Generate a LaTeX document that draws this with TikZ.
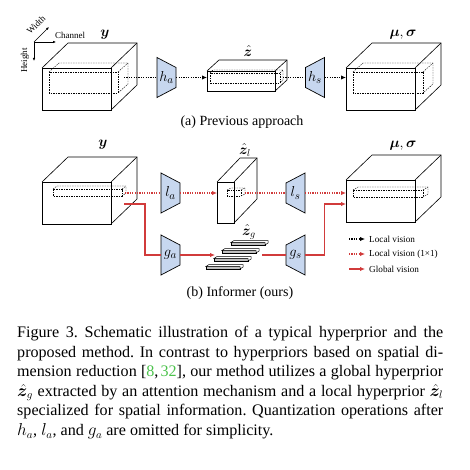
\documentclass[tikz,border=0pt]{standalone}
\usepackage{fontspec}
\setmainfont{Liberation Serif}
\usepackage{bm}
\usetikzlibrary{arrows.meta, calc}
\definecolor{encblue}{HTML}{C7D7EF}
\definecolor{visred}{HTML}{D13B3B}
\definecolor{citegreen}{HTML}{4CC24C}

\tikzset{
  cubeline/.style={line width=0.6pt},
  innerdash/.style={line width=0.4pt, dash pattern=on 1.5pt off 1pt},
  codec/.style={fill=encblue, draw=black, line width=0.7pt},
  codelabel/.style={minimum width=19pt, minimum height=40pt, inner sep=0pt,
    font=\fontsize{15}{17}\selectfont},
  mathlabel/.style={inner sep=0pt, font=\fontsize{14}{16}\selectfont},
  smalltext/.style={inner sep=0pt, font=\fontsize{9}{10}\selectfont},
  legendtext/.style={inner sep=0pt, anchor=west, font=\fontsize{9.2}{11}\selectfont},
  subcap/.style={inner sep=0pt, font=\fontsize{14}{16}\selectfont},
  blackdot/.style={black, line width=1.2pt, dash pattern=on 1.2pt off 1.2pt},
  reddot/.style={visred, line width=1.2pt, dash pattern=on 1.2pt off 1.2pt},
  redline/.style={visred, line width=1.2pt},
  tip/.style={-{Latex[length=5pt,width=4.5pt]}},
  axisarrow/.style={line width=0.6pt, -{Latex[length=3pt,width=2.6pt]}}
}

% front top-left x, y, width, height, depth dx, dy
\newcommand{\cuboid}[7][cubeline]{%
  \draw[#1] (#2,#3) rectangle ({#2+#4},{#3+#5});
  \draw[#1] (#2,#3) -- ++(#6,#7) -- ++(#4,0) -- ++(0,#5) -- ({#2+#4},{#3+#5});
  \draw[#1] ({#2+#4},#3) -- ++(#6,#7);
}
% name, x, y, label (wide side left)
\newcommand{\encoder}[4]{%
  \filldraw[codec] ({#2-9.5},{#3-20}) -- ({#2+9.5},{#3-10}) -- ({#2+9.5},{#3+10})
    -- ({#2-9.5},{#3+20}) -- cycle;
  \node[codelabel] (#1) at (#2,#3) {#4};
}
% name, x, y, label (wide side right)
\newcommand{\decoder}[4]{%
  \filldraw[codec] ({#2-9.5},{#3-10}) -- ({#2+9.5},{#3-20}) -- ({#2+9.5},{#3+20})
    -- ({#2-9.5},{#3+10}) -- cycle;
  \node[codelabel] (#1) at (#2,#3) {#4};
}
% left bottom corner of one bar of z_g
\newcommand{\zgbar}[2]{%
  \filldraw[fill=black!25, line width=0.5pt] (#1,#2) rectangle ({#1+34},{#2-2.5});
  \filldraw[fill=white, line width=0.5pt] (#1,{#2-2.5}) -- ++(3,-2) -- ++(34,0)
    -- ++(0,2.5) -- ({#1+34},#2) -- ({#1+34},{#2-2.5}) -- cycle;
}

\begin{document}
\begin{tikzpicture}[x=1pt, y=-1pt]
  \useasboundingbox (0,0) rectangle (469,470);

  % axes
  \coordinate (axo) at (34,42);
  \coordinate (axw) at (49,27);
  \coordinate (axc) at (56,42);
  \coordinate (axh) at (34,61);
  \draw[axisarrow] (axo) -- (axw);
  \draw[axisarrow] (axo) -- (axc);
  \draw[axisarrow] (axo) -- (axh);
  \node[smalltext, rotate=45] (lblw) at (36,25) {Width};
  \node[smalltext] (lblc) at (70,35) {Channel};
  \node[smalltext, rotate=90] (lblh) at (25,60.5) {Height};

  % (a) previous approach
  \cuboid{42}{68}{69}{42}{26}{-25}
  \cuboid[innerdash]{49}{72}{69}{21}{10}{-9}
  \node[mathlabel] (ya) at (105,35) {$\bm{y}$};
  \coordinate (ya-out) at (124,77.5);

  \encoder{ha}{166.5}{77.5}{$h_a$}

  \cuboid{207}{71}{68}{20}{12}{-11}
  \cuboid[innerdash]{210}{73}{70}{10}{3}{-3}
  \node[mathlabel] (za) at (248,51) {$\hat{\bm{z}}$};
  \coordinate (za-in) at (207,77.5);
  \coordinate (za-out) at (283,77.5);

  \decoder{hs}{315}{77.5}{$h_s$}

  \cuboid{346}{68}{69}{42}{26}{-25}
  \cuboid[innerdash]{353}{72}{70}{21}{10}{-9}
  \node[mathlabel] (ma) at (403,35) {$\bm{\mu},\bm{\sigma}$};
  \coordinate (ma-in) at (346,77.5);

  \draw[blackdot] (ya-out) -- (ha.west);
  \draw[blackdot, tip] (ha.east) -- (za-in);
  \draw[blackdot] (za-out) -- (hs.west);
  \draw[blackdot, tip] (hs.east) -- (ma-in);

  \node[subcap] (capa) at (242,122) {(a) Previous approach};

  % (b) informer
  \cuboid{42}{182}{69}{42}{26}{-25}
  \cuboid[innerdash]{53}{189}{69}{7}{4}{-3}
  \node[mathlabel] (yb) at (103,145) {$\bm{y}$};
  \coordinate (yb-loc) at (125,193);
  \coordinate (yb-glob) at (124,204);

  \encoder{la}{170.5}{193}{$l_a$}
  \encoder{ga}{170.5}{255}{$g_a$}

  \cuboid{217}{182}{17}{41}{23}{-24}
  \cuboid[innerdash]{227}{190}{14}{6}{4}{-2}
  \node[mathlabel] (zl) at (245,150) {$\hat{\bm{z}}_l$};
  \coordinate (zl-in) at (217,193);
  \coordinate (zl-out) at (245,193);

  \zgbar{231}{245}
  \zgbar{222}{253}
  \zgbar{214}{261}
  \zgbar{206}{269}
  \node[mathlabel] (zg) at (249,232) {$\hat{\bm{z}}_g$};
  \coordinate (zg-in) at (215,255);
  \coordinate (zg-out) at (262,255);

  \decoder{ls}{295.5}{193}{$l_s$}
  \decoder{gs}{295.5}{255}{$g_s$}

  \cuboid{346}{180}{69}{42}{26}{-25}
  \cuboid[innerdash]{353}{190}{70}{7}{5}{-3}
  \node[mathlabel] (mb) at (403,146) {$\bm{\mu},\bm{\sigma}$};
  \coordinate (mb-loc) at (346,193);
  \coordinate (mb-glob) at (346,204);

  \draw[reddot] (yb-loc) -- (la.west);
  \draw[reddot, tip] (la.east) -- (zl-in);
  \draw[reddot] (zl-out) -- (ls.west);
  \draw[reddot, tip] (ls.east) -- (mb-loc);

  \draw[redline] (yb-glob) -- ++(21,0) |- (ga.west);
  \draw[redline, tip] (ga.east) -- (zg-in);
  \draw[redline] (zg-out) -- (gs.west);
  \draw[redline, tip] (gs.east) -- ++(19,0) |- (mb-glob);

  % legend
  \node[legendtext] (leg1) at (369,239) {Local vision};
  \node[legendtext] (leg2) at (369,254) {Local vision (1×1)};
  \node[legendtext] (leg3) at (369,269) {Global vision};
  \draw[blackdot, tip] ($(leg1.west)+(-20,0)$) -- ($(leg1.west)+(-4,0)$);
  \draw[reddot, tip] ($(leg2.west)+(-20,0)$) -- ($(leg2.west)+(-4,0)$);
  \draw[redline, tip] ($(leg3.west)+(-20,0)$) -- ($(leg3.west)+(-4,0)$);

  \node[subcap] (capb) at (240,293) {(b) Informer (ours)};

  % figure caption
  \node[anchor=north west, inner sep=0pt, text width=426pt, align=justify,
    font=\fontsize{16.1}{19.6}\selectfont\frenchspacing] (caption) at (17,326)
    {Figure 3. Schematic illustration of a typical hyperprior and the\linebreak
     proposed method. In contrast to hyperpriors based on spatial di-\linebreak
     mension reduction [\textcolor{citegreen}{8},\hskip.13em\textcolor{citegreen}{32}], our method utilizes a global hyperprior\linebreak
     $\hat{\bm{z}}_g$ extracted by an attention mechanism and a local hyperprior $\hat{\bm{z}}_l$\linebreak
     specialized for spatial information. Quantization operations after\linebreak
     $h_a$, $l_a$, and $g_a$ are omitted for simplicity.};
\end{tikzpicture}
\end{document}
